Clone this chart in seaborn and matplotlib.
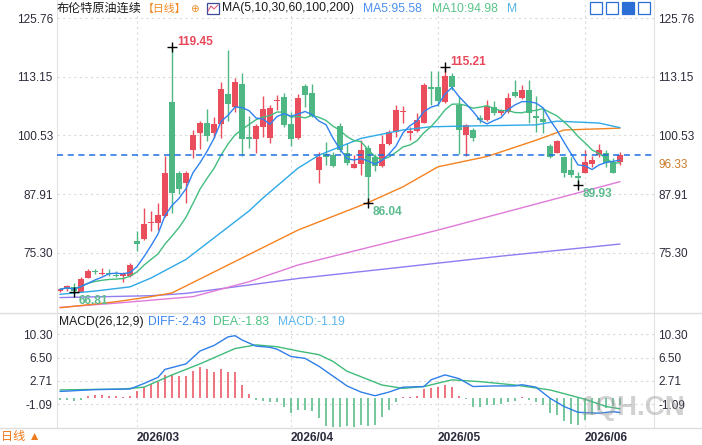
import numpy as np
import pandas as pd
import matplotlib
matplotlib.use("Agg")
import matplotlib.pyplot as plt
import seaborn as sns
from matplotlib.patches import Rectangle
from matplotlib.lines import Line2D

# ---------------- data ----------------
opens = [67.05, 67.5, 67.9, 67.0, 70.0, 71.45, 70.7, 71.0, 70.55, 70.3,
         70.4, 77.8, 78.3, 81.7, 81.7, 83.3, 107.8, 92.4, 90.3, 97.5,
         101.1, 103.3, 101.1, 103.0, 109.4, 106.7, 111.6, 100.3, 99.8, 102.4,
         100.0, 107.9, 108.7, 103.0, 100.0, 111.1, 109.7, 93.1, 96.5, 96.3,
         102.6, 96.7, 93.6, 94.3, 97.8, 95.9, 94.0, 98.7, 101.3, 105.5,
         101.0, 101.5, 103.3, 110.9, 110.9, 107.7, 113.3, 107.1, 100.6, 101.8,
         104.3, 103.9, 106.7, 105.3, 105.6, 109.8, 108.6, 110.3, 104.7, 104.0,
         98.3, 96.8, 95.9, 93.1, 91.8, 92.5, 94.4, 96.3, 96.8, 94.9,
         94.8]
highs = [67.7, 68.4, 68.77, 70.06, 71.9, 71.9, 72.1, 71.8, 71.4, 71.3,
         73.2, 80.0, 84.9, 84.3, 86.0, 96.1, 119.45, 92.8, 92.8, 101.7,
         103.6, 106.2, 104.6, 112.1, 118.9, 112.9, 113.9, 104.7, 103.0, 108.9,
         107.1, 109.2, 109.7, 105.6, 109.4, 111.6, 111.6, 96.9, 99.2, 97.0,
         103.3, 98.9, 96.3, 99.6, 98.5, 96.5, 100.6, 101.6, 107.1, 106.9,
         102.4, 105.4, 111.8, 114.4, 114.4, 115.21, 114.0, 109.0, 103.0, 102.2,
         104.9, 108.1, 108.0, 106.3, 109.6, 112.4, 111.4, 112.4, 109.0, 106.2,
         98.6, 99.6, 96.1, 95.8, 92.6, 97.4, 96.1, 98.7, 97.4, 95.6,
         96.9]
lows = [66.9, 67.2, 66.81, 66.9, 69.9, 70.76, 70.6, 70.3, 70.06, 69.1,
        70.1, 75.6, 78.0, 80.0, 80.2, 83.0, 83.8, 87.9, 86.1, 95.6,
        97.6, 99.4, 99.9, 99.9, 103.7, 105.6, 96.1, 97.9, 96.8, 100.3,
        99.0, 106.0, 102.3, 98.3, 99.7, 106.7, 104.4, 90.3, 94.2, 93.8,
        97.0, 94.2, 93.6, 92.0, 86.04, 92.8, 93.7, 98.5, 100.3, 103.1,
        99.5, 101.3, 103.1, 107.1, 106.9, 107.5, 110.4, 96.5, 96.1, 99.4,
        103.3, 103.7, 104.9, 104.9, 105.4, 108.7, 108.4, 103.1, 101.3, 101.0,
        95.6, 96.7, 91.5, 91.5, 89.93, 92.4, 93.7, 96.0, 93.8, 92.4,
        94.2]
closes = [67.48, 68.1, 67.05, 69.7, 71.5, 71.1, 71.0, 70.8, 70.3, 70.8,
          72.6, 77.3, 81.5, 82.0, 83.4, 92.4, 88.2, 89.0, 92.4, 100.6,
          103.1, 100.4, 103.0, 110.5, 107.3, 112.0, 99.8, 99.7, 102.6, 106.2,
          106.4, 108.1, 102.8, 99.8, 108.5, 109.2, 104.8, 95.8, 95.9, 94.0,
          97.4, 94.6, 94.4, 97.4, 91.5, 93.9, 98.7, 101.2, 106.0, 105.7,
          101.5, 103.8, 111.4, 110.6, 108.0, 113.3, 110.9, 101.6, 102.8, 99.9,
          103.8, 106.9, 105.3, 105.9, 108.5, 108.9, 110.4, 105.3, 104.3, 103.5,
          95.8, 99.4, 92.5, 92.0, 91.3, 94.9, 95.3, 97.4, 94.7, 92.5,
          96.33]

# long moving averages (candle index, value)
ma30_idx = [0, 5, 10, 13, 18, 27, 29, 34, 37, 43, 49, 53, 60, 68, 71, 77, 80]
ma30_val = [66.4, 67.1, 68.0, 69.9, 73.9, 84.3, 87.1, 93.5, 96.3, 99.9, 101.7, 102.4, 102.6, 102.8, 103.6, 103.2, 102.2]
ma60_idx = [0, 8, 13, 16, 34, 44, 49, 54, 61, 68, 72, 80]
ma60_val = [63.5, 64.8, 65.9, 66.7, 80.2, 86.1, 89.5, 93.8, 96.0, 99.5, 101.7, 102.1]
ma100_idx = [0, 8, 19, 27, 34, 54, 80]
ma100_val = [63.6, 64.5, 65.9, 69.1, 72.7, 80.2, 90.6]
ma200_idx = [0, 13, 18, 27, 34, 48, 63, 80]
ma200_val = [65.7, 66.1, 66.6, 68.4, 69.8, 72.1, 74.6, 77.2]

# MACD(26,12,9)
diff_idx = [0, 5, 10, 12, 14, 15, 18, 20, 22, 24, 25, 26, 28, 30, 31, 33, 35, 37, 39, 41,
            43, 45, 47, 49, 52, 53, 55, 57, 59, 62, 65, 66, 68, 70, 72, 74, 77, 79, 80]
diff_val = [1.0, 1.3, 1.4, 2.3, 3.3, 4.6, 5.5, 7.6, 8.5, 9.9, 10.1, 9.4, 8.4, 8.2, 7.9, 6.7, 6.4, 5.1, 3.5, 1.9,
            0.9, 0.3, 0.9, 1.7, 1.8, 2.9, 3.7, 3.1, 1.8, 1.9, 1.9, 2.1, 1.7, -0.1, -1.45, -2.4, -2.55, -2.3, -2.43]
dea_idx = [0, 9, 12, 16, 20, 25, 28, 31, 34, 37, 39, 41, 46, 49, 52, 56, 60, 65, 70, 75, 78, 80]
dea_val = [1.25, 1.4, 1.7, 3.7, 5.5, 8.0, 8.6, 8.3, 7.6, 7.0, 5.9, 4.3, 2.05, 1.5, 1.8, 2.9, 2.6, 2.05, 1.25, -0.27, -1.45, -1.83]
macd_hist = [-0.4, -0.4, -0.5, -0.4, 0.3, 0.35, 0.35, 0.3, 0.2, 0.15,
             0.3, 1.0, 1.7, 2.2, 2.6, 3.7, 3.7, 3.5, 3.5, 4.4,
             5.05, 4.6, 4.2, 4.7, 4.2, 4.1, 2.1, 0.6, -0.4, -0.5,
             -0.65, -0.8, -1.6, -2.55, -2.0, -2.0, -2.2, -3.4, -4.7, -4.8,
             -5.0, -4.7, -5.0, -4.45, -4.6, -4.45, -3.2, -2.1, -0.8, 0.15,
             0.15, 0.27, 1.35, 1.5, 1.7, 2.05, 1.7, 0.3, -0.3, -1.6,
             -1.5, -1.2, -1.2, -1.0, -0.65, -0.55, 0.15, -0.4, -0.65, -1.2,
             -2.55, -2.8, -3.75, -4.3, -4.45, -3.6, -2.8, -2.0, -1.75, -1.45,
             -1.19]

price_ticks = [125.76, 113.15, 100.53, 87.91, 75.30]
macd_ticks = [10.30, 6.50, 2.71, -1.09]
last_price = 96.33
ma5_label, ma10_label = 95.58, 94.98
diff_label, dea_label, macd_label = -2.43, -1.83, -1.19
title = "布伦特原油连续"
period = "【日线】"
ma_title = "MA(5,10,30,60,100,200)"
extremes = [(16, 119.45, "high"), (55, 115.21, "high"), (2, 66.81, "low"),
            (44, 86.04, "low"), (74, 89.93, "low")]

# trading days (Good Friday closed)
dates = [d for d in pd.bdate_range("2026-02-13", "2026-06-08") if d != pd.Timestamp("2026-04-03")]

# ---------------- style ----------------
sns.set_style("white")
plt.rcParams["font.family"] = ["Liberation Sans", "Noto Sans CJK SC", "DejaVu Sans"]

RED = "#ea4d5b"
GREEN = "#4fb783"
C_MA5 = "#2f82f2"
C_MA10 = "#43bd7f"
C_MA30 = "#2ea9e6"
C_MA60 = "#f5821f"
C_MA100 = "#e07ad8"
C_MA200 = "#8e7cf0"
TXT = "#2b2b3b"
GRID = "#dadada"

W, H = 702, 445
fig = plt.figure(figsize=(W / 100, H / 100), dpi=100)


def fx(px):
    return px / W


def fy(py):
    return 1 - py / H


ax = fig.add_axes([fx(57), fy(312), fx(654) - fx(57), fy(0) - fy(312)])
axm = fig.add_axes([fx(57), fy(427), fx(654) - fx(57), fy(313) - fy(427)])

n = len(closes)
idx = np.arange(n)
o = np.array(opens); c = np.array(closes); hi = np.array(highs); lo = np.array(lows)
up = c >= o
cols = np.where(up, RED, GREEN)

# ---------------- price panel ----------------
ax.set_xlim(-0.43, 84.86)
ax.set_ylim(62.60, 129.63)

ax.vlines(idx, lo, hi, colors=cols, linewidth=1, zorder=2)
body_bottom = np.minimum(o, c)
body_h = np.maximum(np.abs(c - o), 0.15)
ax.bar(idx, body_h, bottom=body_bottom, width=0.72, color=cols, linewidth=0, zorder=2)

s = pd.Series(closes)
ma5 = s.rolling(5, min_periods=1).mean()
ma10 = s.rolling(10, min_periods=1).mean()
for xs, ys, col in [(ma200_idx, ma200_val, C_MA200), (ma100_idx, ma100_val, C_MA100),
                    (ma60_idx, ma60_val, C_MA60), (ma30_idx, ma30_val, C_MA30),
                    (idx, ma10, C_MA10), (idx, ma5, C_MA5)]:
    sns.lineplot(x=np.asarray(xs), y=np.asarray(ys), ax=ax, color=col, linewidth=1.0,
                 legend=False, zorder=3)

ax.axhline(last_price, color="#1f6fe0", linestyle=(0, (4, 3)), linewidth=1.1, zorder=4)

tick_idx = [i for i in range(1, n) if dates[i].month != dates[i - 1].month]
tick_lab = [dates[i].strftime("%Y/%m") for i in tick_idx]

ax.set_yticks(price_ticks)
ax.set_yticklabels([f"{v:.2f}" for v in price_ticks])
ax.set_xticks(tick_idx)
ax.tick_params(axis="x", labelbottom=False, length=0)
ax.tick_params(axis="y", labelleft=True, labelright=True, length=0, pad=3,
               labelsize=8.5, labelcolor=TXT)
ax.grid(True, linestyle=(0, (2, 3)), color=GRID, linewidth=0.8)
ax.set_axisbelow(True)
for sp in ["top", "bottom"]:
    ax.spines[sp].set_visible(False)
for sp in ["left", "right"]:
    ax.spines[sp].set_color("#e2e2e2")
ax.set_xlabel(""); ax.set_ylabel("")

# extremes
for i, v, kind in extremes:
    ax.plot(i, v, marker="+", color="black", ms=7, mew=1, zorder=5)
    if kind == "high":
        ax.annotate(f"{v:.2f}", (i, v), xytext=(4, 4), textcoords="offset points",
                    color="#e8485a", fontsize=8.6, fontweight="bold", va="center", ha="left")
    else:
        ax.annotate(f"{v:.2f}", (i, v), xytext=(3.5, -6.5), textcoords="offset points",
                    color="#5cbb8e", fontsize=8.6, fontweight="bold", va="center", ha="left")

ax.annotate(f"{last_price:.2f}", (1, last_price), xycoords=("axes fraction", "data"),
            xytext=(3, -7.5), textcoords="offset points", color="#c97b2a",
            fontsize=8.5, va="center", ha="left", annotation_clip=False)

# ---------------- MACD panel ----------------
axm.set_xlim(-0.43, 84.86)
axm.set_ylim(-4.80, 13.80)
hcols = [RED if v > 0 else GREEN for v in macd_hist]
axm.vlines(idx, 0, macd_hist, colors=hcols, linewidth=1.1, zorder=2)
sns.lineplot(x=np.asarray(dea_idx), y=np.asarray(dea_val), ax=axm, color="#3fbb7a",
             linewidth=1.0, legend=False, zorder=3)
sns.lineplot(x=np.asarray(diff_idx), y=np.asarray(diff_val), ax=axm, color="#2f7fe8",
             linewidth=1.0, legend=False, zorder=3)
axm.set_yticks(macd_ticks)
axm.set_yticklabels([f"{v:.2f}" for v in macd_ticks])
axm.set_xticks(tick_idx)
axm.set_xticklabels(tick_lab, ha="left", fontweight="bold", fontsize=8.6, color=TXT)
axm.tick_params(axis="y", labelleft=True, labelright=True, length=0, pad=3,
                labelsize=8.5, labelcolor=TXT)
axm.tick_params(axis="x", length=3.5, color="#cfcfcf", pad=0, width=0.8)
axm.grid(True, linestyle=(0, (2, 3)), color=GRID, linewidth=0.8)
axm.set_axisbelow(True)
axm.spines["top"].set_visible(False)
axm.spines["bottom"].set_visible(False)
for sp in ["left", "right"]:
    axm.spines[sp].set_color("#e2e2e2")
axm.set_xlabel(""); axm.set_ylabel("")

# ---------------- figure-level decorations ----------------
for yy in (312.5, 427.5):
    fig.add_artist(Line2D([0, 1], [fy(yy), fy(yy)], color="#dedede", linewidth=1,
                          transform=fig.transFigure))

ty = fy(8.5)
fig.text(fx(57), ty, title, color="#1a1a1a", fontsize=8.7, va="center")
fig.text(fx(143), ty, period, color="#f08a24", fontsize=7.8, va="center")
fig.text(fx(190), ty, "⊕", color="#f08a24", fontsize=7.5, va="center",
         family=["DejaVu Sans"])
fig.add_artist(Rectangle((fx(207), fy(14)), fx(12), 11 / H, fill=False,
                         edgecolor="#3b4a9a", linewidth=0.9, transform=fig.transFigure))
fig.add_artist(Line2D([fx(208), fx(211), fx(214), fx(218)], [fy(11), fy(6), fy(9), fy(5)],
                      color="#e05a7a", linewidth=0.8, transform=fig.transFigure))
fig.text(fx(222), ty, ma_title, color="#1a1a1a", fontsize=8.7, va="center")
fig.text(fx(363), ty, f"MA5:{ma5_label:.2f}", color="#4a8ff0", fontsize=8.7, va="center")
fig.text(fx(432), ty, f"MA10:{ma10_label:.2f}", color="#5cc48a", fontsize=8.7, va="center")
fig.text(fx(507), ty, "M", color="#56b4e8", fontsize=8.7, va="center")

for k, x0 in enumerate([590, 606, 622, 638]):
    fig.add_artist(Rectangle((fx(x0), fy(14)), fx(12), 12 / H, fill=(k == 2),
                             facecolor="#2b6fd6", edgecolor="#2b6fd6", linewidth=0.9,
                             transform=fig.transFigure))

my = fy(322)
fig.text(fx(59), my, "MACD(26,12,9)", color="#1a1a1a", fontsize=8.7, va="center")
fig.text(fx(148), my, f"DIFF:{diff_label:.2f}", color="#3a86f0", fontsize=8.7, va="center")
fig.text(fx(213), my, f"DEA:{dea_label:.2f}", color="#4cc282", fontsize=8.7, va="center")
fig.text(fx(278), my, f"MACD:{macd_label:.2f}", color="#5ab4f0", fontsize=8.7, va="center")

fig.text(fx(1), fy(437), "日线 ▲", color="#f07a1a", fontsize=8.7, va="center")
fig.text(fx(580), fy(408), "1QH.CN", color="#9a9a9a", alpha=0.45, fontsize=20,
         fontweight="bold", va="center", ha="left")

fig.savefig("out.png", dpi=100)
